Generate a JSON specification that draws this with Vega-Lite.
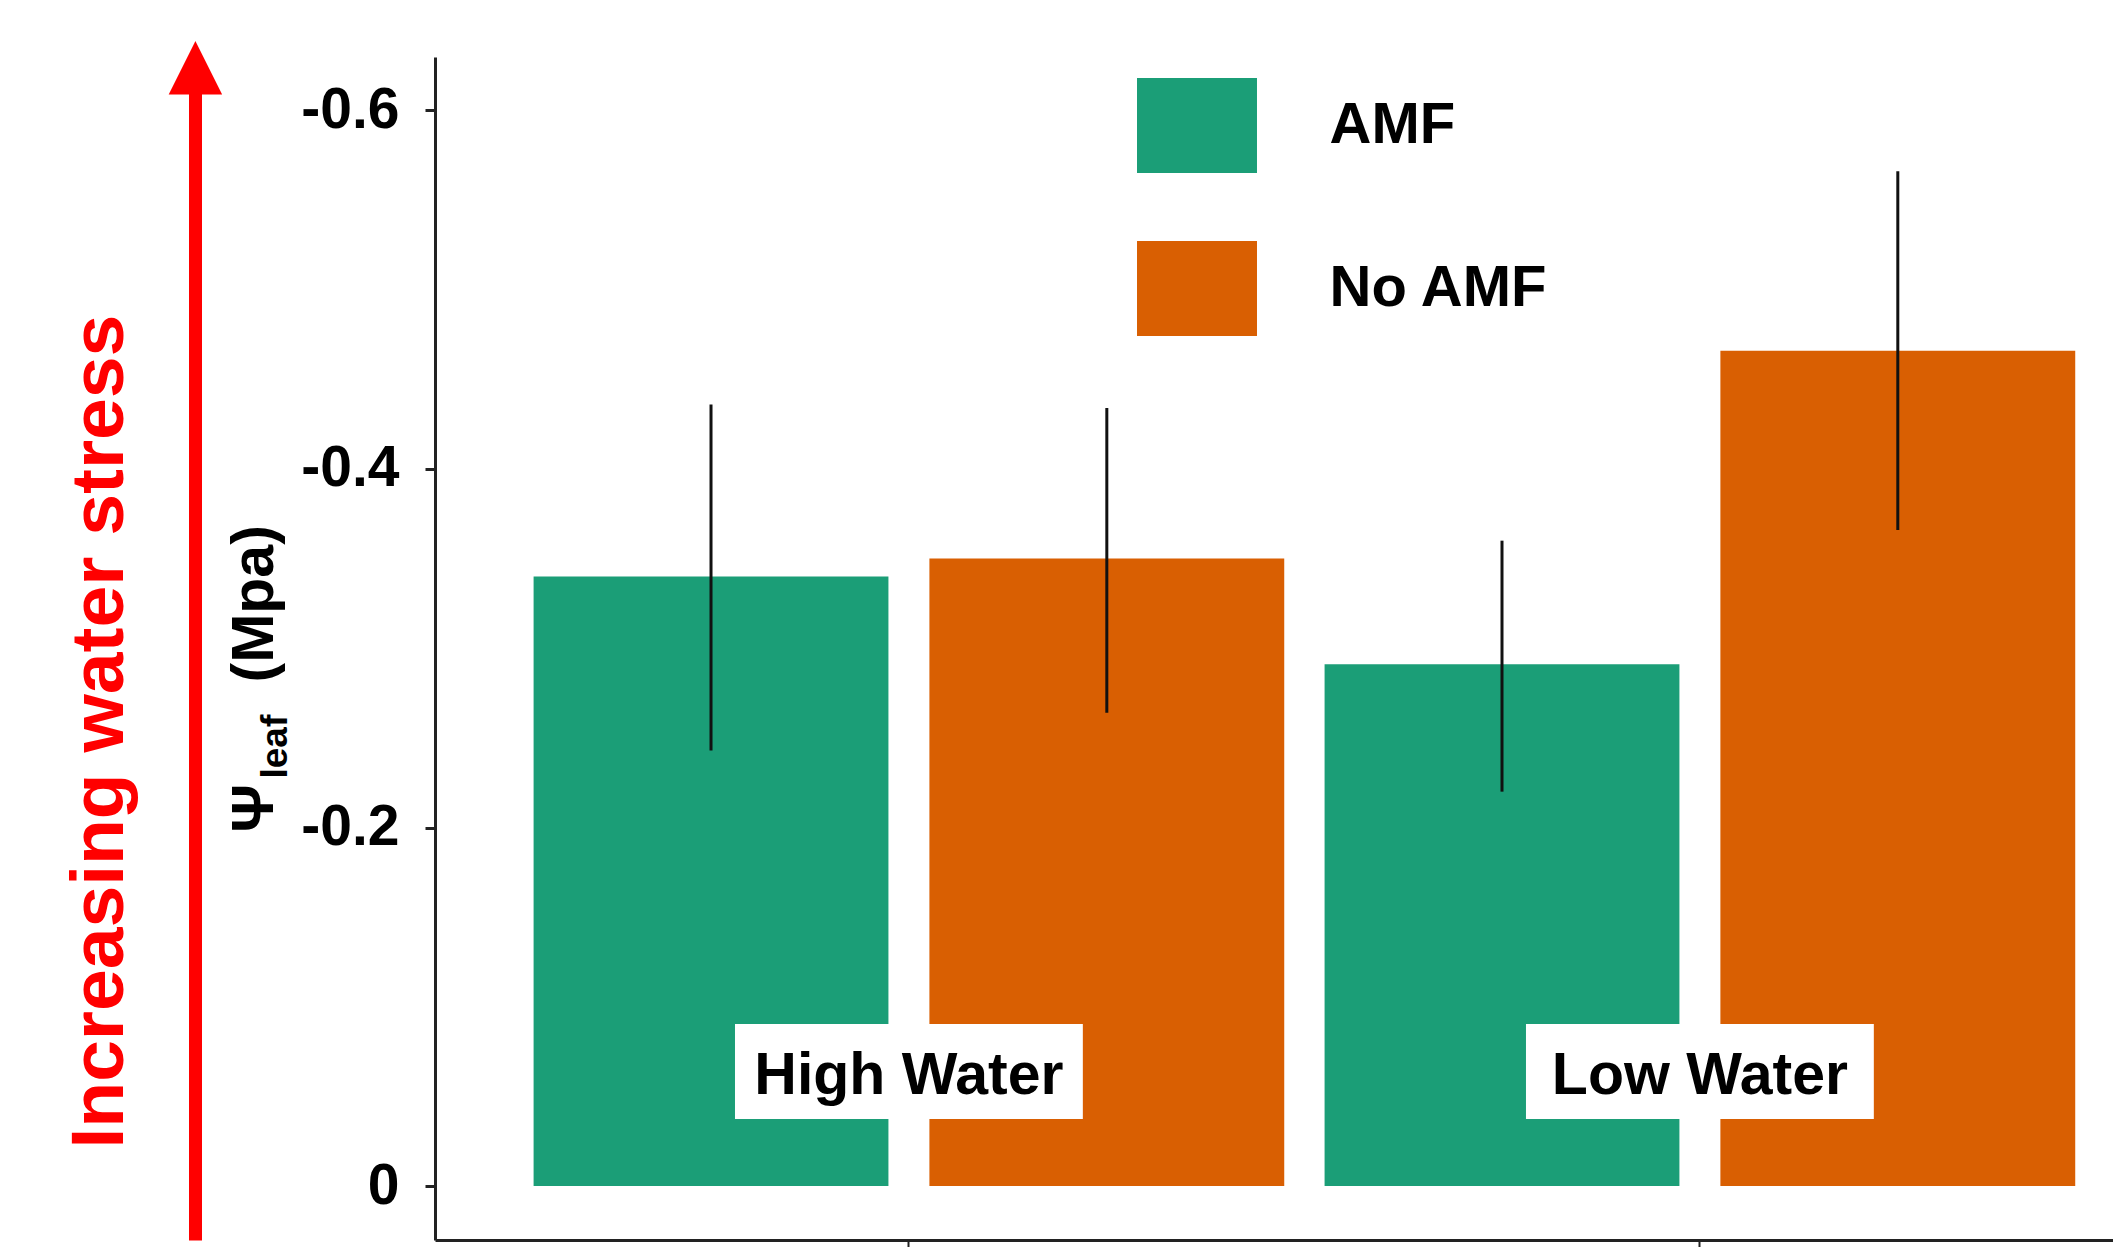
{
  "$schema": "https://vega.github.io/schema/vega-lite/v6.json",
  "width": 1678,
  "height": 1183,
  "autosize": {"type": "none"},
  "padding": {"left": 435, "top": 57, "right": 0, "bottom": 7},
  "background": "white",
  "config": {"view": {"stroke": null}, "axis": {"grid": false}},
  "data": {"values": [
    {"group": "High Water", "treatment": "AMF", "mean": -0.340, "lo": -0.436, "hi": -0.243},
    {"group": "High Water", "treatment": "No AMF", "mean": -0.350, "lo": -0.434, "hi": -0.264},
    {"group": "Low Water", "treatment": "AMF", "mean": -0.291, "lo": -0.360, "hi": -0.220},
    {"group": "Low Water", "treatment": "No AMF", "mean": -0.466, "lo": -0.566, "hi": -0.366}
  ]},
  "resolve": {"axis": {"y": "independent"}},
  "layer": [
    {
      "mark": {"type": "bar"},
      "encoding": {
        "x": {"field": "group", "type": "nominal", "sort": ["High Water", "Low Water"], "title": null,
          "scale": {"paddingInner": 0.051, "paddingOuter": 0.0862, "align": 0.723},
          "axis": {"labels": false, "ticks": true, "tickSize": 8, "tickWidth": 2, "tickColor": "#222", "domain": true, "domainColor": "#222", "domainWidth": 3, "title": null}},
        "xOffset": {"field": "treatment", "type": "nominal", "sort": ["AMF", "No AMF"], "scale": {"paddingInner": 0.1035, "paddingOuter": 0}},
        "y": {"field": "mean", "type": "quantitative",
          "scale": {"domain": [-0.6298, 0.0301], "reverse": true, "nice": false, "zero": false},
          "axis": {"orient": "left", "offset": 0, "values": [-0.6, -0.4, -0.2, 0],
            "labelExpr": "datum.value == 0 ? '0' : '-' + format(abs(datum.value), '.1f')",
            "labelFont": "Liberation Sans", "labelFontSize": 57, "labelFontWeight": "bold", "labelColor": "black",
            "labelPadding": 26, "labelBaseline": "middle", "labelAlign": "right",
            "domain": true, "domainColor": "#222", "domainWidth": 3,
            "ticks": true, "tickSize": 10, "tickWidth": 3, "tickColor": "#222",
            "title": "Ψ", "titleFont": "Liberation Sans", "titleFontSize": 60, "titleFontWeight": "bold", "titleColor": "black",
            "titleAngle": -90, "titleAlign": "left", "titleBaseline": "alphabetic", "titleX": -163, "titleY": 775}},
        "y2": {"datum": 0},
        "color": {"field": "treatment", "type": "nominal",
          "scale": {"domain": ["AMF", "No AMF"], "range": ["#1B9E77", "#D95F02"]},
          "legend": {"orient": "none", "legendX": 714.5, "legendY": 21, "title": null, "padding": 0,
            "symbolType": "M-1.263,-1H1.263V1H-1.263Z", "symbolSize": 9025, "symbolStrokeWidth": 0,
            "labelFont": "Liberation Sans", "labelFontSize": 58, "labelFontWeight": "bold", "labelColor": "black",
            "labelOffset": 85, "labelBaseline": "middle", "labelLimit": 0, "rowPadding": 68,
            "encode": {"symbols": {
              "enter": {"fill": {"signal": "datum.value === 'AMF' ? '#009B77' : '#E86223'"}},
              "update": {"fill": {"signal": "datum.value === 'AMF' ? '#009B77' : '#E86223'"}, "opacity": {"value": 1}}}}}}
      }
    },
    {
      "mark": {"type": "rule", "color": "#111", "strokeWidth": 3},
      "encoding": {
        "x": {"field": "group", "type": "nominal", "sort": ["High Water", "Low Water"], "title": null,
          "axis": {"labels": false, "ticks": true, "tickSize": 8, "tickWidth": 2, "tickColor": "#222", "domain": true, "domainColor": "#222", "domainWidth": 3, "title": null}},
        "xOffset": {"field": "treatment", "type": "nominal", "sort": ["AMF", "No AMF"]},
        "y": {"field": "lo", "type": "quantitative",
          "scale": {"domain": [-0.6298, 0.0301], "reverse": true, "nice": false, "zero": false},
          "axis": {"orient": "left", "offset": 240, "values": [-0.6298], "labelExpr": "'▲'",
            "labelFont": "DejaVu Sans", "labelFontSize": 70, "labelColor": "#FF0000",
            "labelAlign": "center", "labelBaseline": "alphabetic", "labelPadding": 0, "labelOffset": 28,
            "labelOverlap": false, "labelFlush": false, "labelBound": false,
            "domain": true, "domainColor": "#FF0000", "domainWidth": 13,
            "ticks": false, "tickSize": 0,
            "title": "Increasing water stress", "titleFont": "Liberation Sans", "titleFontSize": 75, "titleFontWeight": "bold", "titleColor": "#FF0000",
            "titleAngle": -90, "titleAlign": "left", "titleBaseline": "alphabetic", "titleX": -73, "titleY": 1091}},
        "y2": {"field": "hi"}
      }
    },
    {
      "data": {"values": [{"group": "High Water"}, {"group": "Low Water"}]},
      "mark": {"type": "bar", "color": "white", "width": {"band": 0.4634}},
      "encoding": {
        "x": {"field": "group", "type": "nominal", "sort": ["High Water", "Low Water"], "title": null,
          "axis": {"labels": false, "ticks": true, "tickSize": 8, "tickWidth": 2, "tickColor": "#222", "domain": true, "domainColor": "#222", "domainWidth": 3, "title": null}},
        "y": {"datum": -0.0904, "type": "quantitative",
          "scale": {"domain": [-0.6298, 0.0301], "reverse": true, "nice": false, "zero": false},
          "axis": {"orient": "left", "offset": 0, "domain": false, "ticks": false, "labels": false,
            "title": "leaf", "titleFont": "Liberation Sans", "titleFontSize": 37, "titleFontWeight": "bold", "titleColor": "black",
            "titleAngle": -90, "titleAlign": "left", "titleBaseline": "alphabetic", "titleX": -149, "titleY": 721}},
        "y2": {"datum": -0.0374}
      }
    },
    {
      "data": {"values": [{"group": "High Water"}, {"group": "Low Water"}]},
      "mark": {"type": "text", "font": "Liberation Sans", "fontSize": 59, "fontWeight": "bold", "color": "black", "baseline": "middle", "align": "center"},
      "encoding": {
        "x": {"field": "group", "type": "nominal", "sort": ["High Water", "Low Water"], "title": null,
          "axis": {"labels": false, "ticks": true, "tickSize": 8, "tickWidth": 2, "tickColor": "#222", "domain": true, "domainColor": "#222", "domainWidth": 3, "title": null}},
        "y": {"datum": -0.0615, "type": "quantitative",
          "scale": {"domain": [-0.6298, 0.0301], "reverse": true, "nice": false, "zero": false},
          "axis": {"orient": "left", "offset": 0, "domain": false, "ticks": false, "labels": false,
            "title": "(Mpa)", "titleFont": "Liberation Sans", "titleFontSize": 59, "titleFontWeight": "bold", "titleColor": "black",
            "titleAngle": -90, "titleAlign": "left", "titleBaseline": "alphabetic", "titleX": -163, "titleY": 625}},
        "text": {"field": "group"}
      }
    }
  ]
}
